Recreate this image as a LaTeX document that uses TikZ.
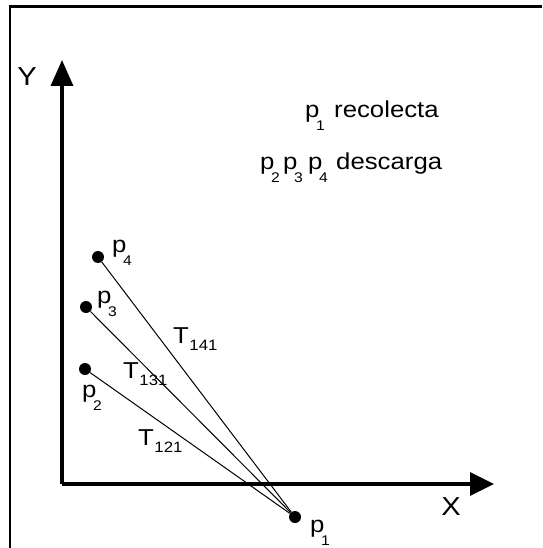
\documentclass[tikz,border=0pt]{standalone}
\usepackage{fontspec}
\setmainfont[FakeStretch=1.12]{Liberation Sans}
\usetikzlibrary{arrows.meta}
\newcommand\psub[1]{p\kern-3.5pt\raisebox{-13pt}{\fontsize{14}{14}\selectfont #1}}
\newcommand\tsub[1]{T\kern0.5pt\raisebox{-7pt}{\fontsize{15}{15}\selectfont #1}}
\begin{document}
\begin{tikzpicture}[x=1pt,y=-1pt,
  dot/.style={circle,fill=black,inner sep=0pt,minimum size=12pt},
  lbl/.style={inner sep=0pt,anchor=base west,font=\fontsize{23}{23}\selectfont},
  axlbl/.style={inner sep=0pt,font=\fontsize{26}{26}\selectfont},
  axis/.style={line width=3.5pt,line join=miter},
  conn/.style={line width=1pt},
  frame/.style={line width=2.5pt}]
\useasboundingbox (0,0) rectangle (542,548);
% frame (cropped: only left and top edges visible)
\coordinate (fbl) at (10,548);
\coordinate (ftl) at (10,6.5);
\coordinate (ftr) at (542,6.5);
\draw[frame] (fbl) -- (ftl) -- (ftr);
% axes
\coordinate (O) at (62,484);
\coordinate (ytip) at (62,60);
\coordinate (xtip) at (494,484);
\draw[axis,-{Triangle[length=26pt,width=22pt]}] (O) -- (ytip);
\draw[axis,-{Triangle[length=24pt,width=23pt]}] (O) -- (xtip);
\node[axlbl] (Y) at (27,77) {Y};
\node[axlbl] (X) at (451,507) {X};
% points
\node[dot] (p1) at (295,517) {};
\node[dot] (p2) at (85,369) {};
\node[dot] (p3) at (86,307) {};
\node[dot] (p4) at (98,257) {};
\draw[conn] (p2) -- (p1);
\draw[conn] (p3) -- (p1);
\draw[conn] (p4) -- (p1);
% point labels
\node[lbl] (l1) at (310,532) {\psub{1}};
\node[lbl] (l2) at (82,397) {\psub{2}};
\node[lbl] (l3) at (97,303) {\psub{3}};
\node[lbl] (l4) at (112,252) {\psub{4}};
% segment labels
\node[lbl] (t141) at (173,343) {\tsub{141}};
\node[lbl] (t131) at (123,378) {\tsub{131}};
\node[lbl] (t121) at (138,445) {\tsub{121}};
% legend
\node[lbl] (k1) at (305,118) {\psub{1}};
\node[lbl] (k1t) at (334,118) {recolecta};
\node[lbl] (k2) at (260,170) {\psub{2}};
\node[lbl] (k3) at (283,170) {\psub{3}};
\node[lbl] (k4) at (308,170) {\psub{4}};
\node[lbl] (k2t) at (336,170) {descarga};
\end{tikzpicture}
\end{document}
